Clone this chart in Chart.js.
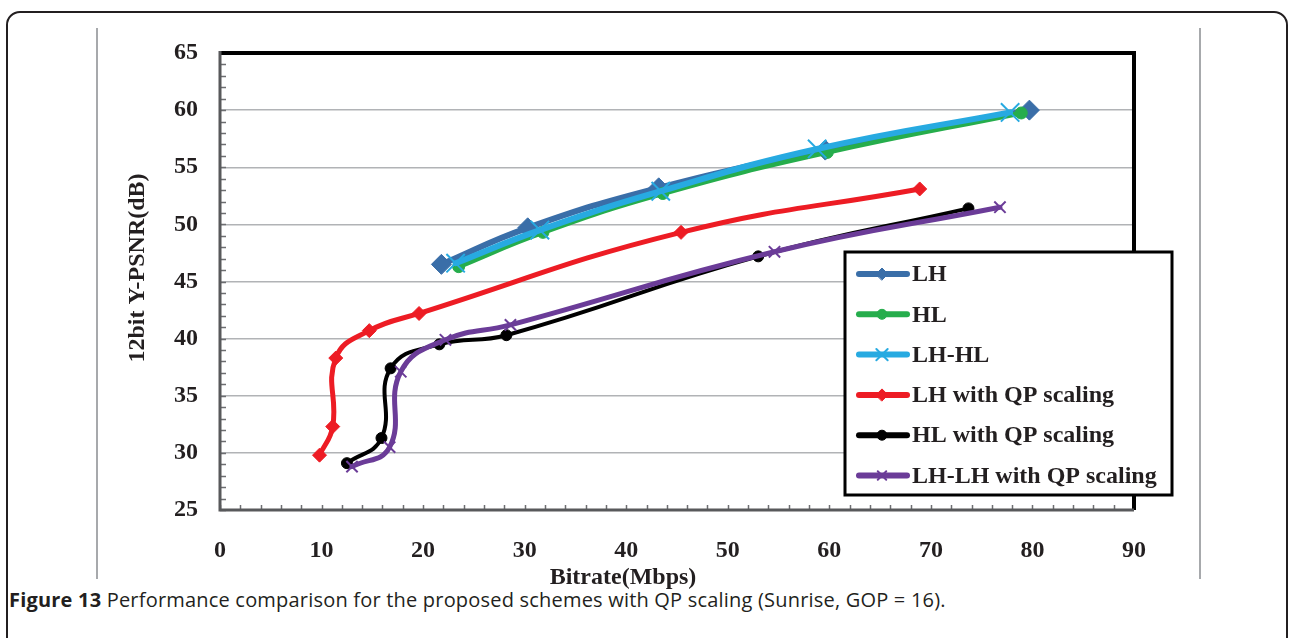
<!DOCTYPE html>
<html>
<head>
<meta charset="utf-8">
<title>Figure 13</title>
<script src="https://cdn.jsdelivr.net/npm/chart.js@4.4.1/dist/chart.umd.min.js"></script>
<style>
    html, body { margin: 0; padding: 0; background: #fff; }
    body { position: relative; width: 1289px; height: 638px; overflow: hidden; }
    .frame {
        position: absolute; left: 6px; top: 11px; width: 1282px; height: 720px;
        border: 2px solid #231f20; border-radius: 14px; box-sizing: border-box;
    }
    .rule { position: absolute; top: 28px; height: 551px; width: 2px; background: #a7a9ac; }
    .caption {
        position: absolute; left: 9px; top: 586px; white-space: nowrap; letter-spacing: 0.2px;
        font: 20px "Open Sans", "Noto Sans", sans-serif; color: #231f20;
    }
    .caption b { font-weight: 700; }
    #chart { position: absolute; left: 0; top: 0; }
</style>
</head>
<body>
<div class="frame"></div>
<div class="rule" style="left:96px"></div>
<div class="rule" style="left:1199px"></div>
<div class="caption"><b>Figure 13</b> Performance comparison for the proposed schemes with QP scaling (Sunrise, GOP = 16).</div>
<canvas id="chart" width="1289" height="638"></canvas>
<script>
// bitrate (Mbps) / Y-PSNR (dB) per scheme
const seriesNames = ["LH", "HL", "LH-HL", "LH with QP scaling", "HL with QP scaling", "LH-LH with QP scaling"];

const lhRate = [21.8, 30.3, 43.2, 59.6, 79.7];
const lhPsnr = [46.5, 49.7, 53.2, 56.5, 60.0];

const hlRate = [23.5, 31.8, 43.6, 59.8, 78.9];
const hlPsnr = [46.3, 49.3, 52.7, 56.3, 59.75];

const lhhlRate = [23.2, 31.5, 43.4, 58.8, 77.8];
const lhhlPsnr = [46.6, 49.5, 52.9, 56.6, 59.8];

const lhQpRate = [9.8, 11.1, 11.4, 14.7, 19.6, 45.4, 68.9];
const lhQpPsnr = [29.8, 32.3, 38.3, 40.7, 42.2, 49.3, 53.1];

const hlQpRate = [12.5, 15.9, 16.8, 21.6, 28.2, 53.0, 73.7];
const hlQpPsnr = [29.1, 31.3, 37.4, 39.5, 40.3, 47.2, 51.4];

const lhlhQpRate = [13.0, 16.7, 17.8, 22.2, 28.6, 54.6, 76.8];
const lhlhQpPsnr = [28.8, 30.5, 37.1, 39.9, 41.2, 47.6, 51.5];

const xTickStep = 10;
const yTickStep = 5;

(function () {
    const SERIF = "'Liberation Serif', 'Times New Roman', serif";
    const INK = "#231f20";

    function pts(xs, ys) {
        return xs.map((x, i) => ({ x: x, y: ys[i] }));
    }

    // style per series: colour, marker, marker size in plot / in legend, line width
    const styles = [
        { color: "#3a6ea8", marker: "rectRot", r: 10, lr: 6, w: 6 },
        { color: "#26ad4c", marker: "circle", r: 6, lr: 5, w: 5 },
        { color: "#27aae1", marker: "crossRot", r: 13, lr: 8, w: 6, bw: 2 },
        { color: "#ed1c24", marker: "rectRot", r: 7, lr: 6, w: 5 },
        { color: "#000000", marker: "circle", r: 5.5, lr: 5, w: 4 },
        { color: "#6b3c98", marker: "crossRot", r: 8, lr: 6, w: 5, bw: 2 },
    ];
    const values = [
        pts(lhRate, lhPsnr),
        pts(hlRate, hlPsnr),
        pts(lhhlRate, lhhlPsnr),
        pts(lhQpRate, lhQpPsnr),
        pts(hlQpRate, hlQpPsnr),
        pts(lhlhQpRate, lhlhQpPsnr),
    ];

    const datasets = seriesNames.map((name, i) => {
        const s = styles[i];
        return {
            label: name,
            data: values[i],
            showLine: true,
            tension: 0.45,
            borderColor: s.color,
            backgroundColor: s.color,
            borderWidth: s.w,
            borderCapStyle: "round",
            borderJoinStyle: "round",
            pointStyle: s.marker,
            pointRadius: s.r,
            pointBorderWidth: s.bw || 1,
            pointBackgroundColor: s.color,
            pointBorderColor: s.color,
            order: seriesNames.length - i,
        };
    });

    // axis lines, inner minor ticks and axis titles
    const plotFrame = {
        id: "plotFrame",
        afterDatasetsDraw(chart) {
            const c = chart.ctx;
            const a = chart.chartArea;
            const xs = chart.scales.x;
            const ys = chart.scales.y;
            c.save();
            c.lineCap = "butt";
            c.strokeStyle = "#6d6e71";
            c.lineWidth = 1.5;
            c.beginPath();
            for (let v = ys.min; v <= ys.max; v += 1) {
                const y = Math.round(ys.getPixelForValue(v)) + 0.5;
                c.moveTo(a.left, y);
                c.lineTo(a.left + 6, y);
            }
            for (let v = xs.min; v <= xs.max; v += 2) {
                const x = Math.round(xs.getPixelForValue(v)) + 0.5;
                c.moveTo(x, a.bottom);
                c.lineTo(x, a.bottom - 5);
            }
            c.stroke();

            c.strokeStyle = "#000";
            c.lineWidth = 4;
            c.beginPath();
            c.moveTo(a.left, a.top);
            c.lineTo(a.right, a.top);
            c.lineTo(a.right, a.bottom);
            c.stroke();

            c.strokeStyle = "#58595b";
            c.lineWidth = 3;
            c.beginPath();
            c.moveTo(a.left, a.top - 2);
            c.lineTo(a.left, a.bottom);
            c.lineTo(a.right, a.bottom);
            c.stroke();

            c.fillStyle = INK;
            c.font = "bold 24px " + SERIF;
            c.textAlign = "center";
            c.textBaseline = "middle";
            c.fillText("Bitrate(Mbps)", 623, 578);
            c.translate(138, 268);
            c.rotate(-Math.PI / 2);
            c.fillText("12bit Y-PSNR(dB)", 0, 0);
            c.restore();
        },
    };

    // boxed legend inside the plot, lower right
    const legendBox = {
        id: "legendBox",
        afterDraw(chart) {
            const c = chart.ctx;
            const box = { x: 845, y: 252, w: 327, h: 243 };
            c.save();
            c.fillStyle = "#fff";
            c.fillRect(box.x, box.y, box.w, box.h);
            c.strokeStyle = "#000";
            c.lineWidth = 3;
            c.strokeRect(box.x, box.y, box.w, box.h);
            c.font = "bold 24px " + SERIF;
            c.textBaseline = "middle";
            c.textAlign = "left";
            seriesNames.forEach((name, i) => {
                const s = styles[i];
                const y = 274 + i * 40.3;
                c.strokeStyle = s.color;
                c.lineWidth = 6;
                c.lineCap = "round";
                c.beginPath();
                c.moveTo(859, y);
                c.lineTo(907, y);
                c.stroke();
                c.fillStyle = s.color;
                c.lineWidth = s.bw || 1;
                Chart.helpers.drawPoint(c, { pointStyle: s.marker, radius: s.lr, borderWidth: s.bw || 1 }, 882, y);
                c.fillStyle = INK;
                c.fillText(name, 912, y + 1);
            });
            c.restore();
        },
    };

    const canvas = document.getElementById("chart");
    new Chart(canvas.getContext("2d"), {
        type: "scatter",
        data: { datasets: datasets },
        options: {
            responsive: false,
            animation: false,
            layout: { padding: { top: 53, right: 155, left: 0, bottom: 0 } },
            plugins: {
                legend: { display: false },
                tooltip: { enabled: false },
            },
            scales: {
                x: {
                    type: "linear",
                    min: 0,
                    max: 90,
                    ticks: {
                        stepSize: xTickStep,
                        padding: 26,
                        color: INK,
                        font: { family: SERIF, size: 24, weight: "bold" },
                    },
                    grid: { display: false, drawTicks: false },
                    border: { display: false },
                    afterFit: (s) => {
                        s.height = 128;
                    },
                },
                y: {
                    type: "linear",
                    min: 25,
                    max: 65,
                    ticks: {
                        stepSize: yTickStep,
                        padding: 22,
                        color: INK,
                        font: { family: SERIF, size: 24, weight: "bold" },
                    },
                    grid: {
                        drawTicks: false,
                        lineWidth: 1.5,
                        color: (ctx) =>
                            ctx.tick && (ctx.tick.value === 25 || ctx.tick.value === 65) ? "rgba(0,0,0,0)" : "#b1b3b6",
                    },
                    border: { display: false },
                    afterFit: (s) => {
                        s.width = 220;
                    },
                },
            },
        },
        plugins: [plotFrame, legendBox],
    });
})();
</script>
</body>
</html>
